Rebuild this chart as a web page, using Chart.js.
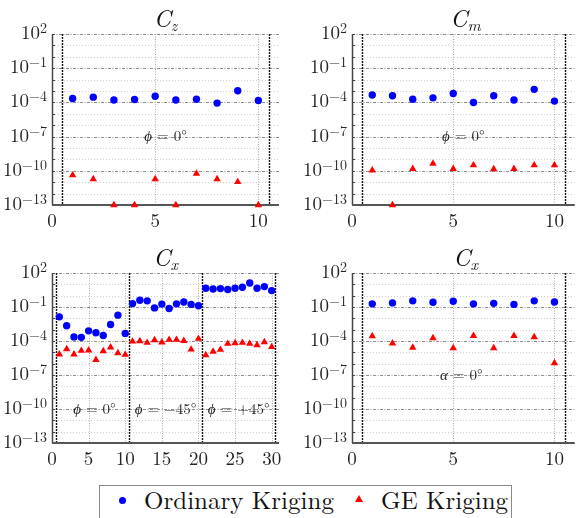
<!DOCTYPE html>
<html>
<head>
<meta charset="utf-8">
<script src="https://cdn.jsdelivr.net/npm/chart.js@4.4.1/dist/chart.umd.min.js"></script>
<style>
  body { margin: 0; background: #fff; width: 577px; height: 518px; overflow: hidden; position: relative;
         font-family: 'Latin Modern Roman', 'Liberation Serif', serif; color: #111; }
  canvas { position: absolute; }
  .ttl { position: absolute; text-align: center; font-size: 24px; font-style: italic; line-height: 26px;
         font-family: 'Latin Modern Roman', 'Liberation Serif', serif; }
  .ttl sub { font-size: 16px; vertical-align: -4px; line-height: 0; }
  .legend { position: absolute; left: 99px; top: 485px; width: 413px; height: 40px; border: 1px solid #8a8a8a;
            box-sizing: border-box; font-size: 25px; line-height: 25px; white-space: nowrap;
            font-family: 'Latin Modern Roman', 'Liberation Serif', serif; }
  .legend span { position: absolute; top: 0px; }
  .dot { position: absolute; width: 7px; height: 7px; border-radius: 50%; background: #0000ff; top: 11px; }
  .tri { position: absolute; width: 0; height: 0; border-left: 4px solid transparent; border-right: 4px solid transparent;
         border-bottom: 7px solid #ff0000; top: 9px; }
</style>
</head>
<body>
<canvas id="cz" width="290" height="232" style="left:0;top:0"></canvas>
<canvas id="cm" width="279" height="232" style="left:300px;top:0"></canvas>
<canvas id="cxphi" width="290" height="231" style="left:0;top:239px"></canvas>
<canvas id="cxalpha" width="279" height="231" style="left:300px;top:239px"></canvas>

<div class="ttl" style="left:52px;width:227px;top:4px"><i>C</i><sub>z</sub></div>
<div class="ttl" style="left:352px;width:227px;top:4px"><i>C</i><sub>m</sub></div>
<div class="ttl" style="left:52px;width:227px;top:243px"><i>C</i><sub>x</sub></div>
<div class="ttl" style="left:352px;width:227px;top:243px"><i>C</i><sub>x</sub></div>

<div class="legend">
  <div class="dot" style="left:19px"></div><span style="left:44px">Ordinary Kriging</span>
  <div class="tri" style="left:255px"></div><span style="left:281px">GE Kriging</span>
</div>

<script>
// run indices
const runs10 = [1, 2, 3, 4, 5, 6, 7, 8, 9, 10];
const runs30 = [1, 2, 3, 4, 5, 6, 7, 8, 9, 10, 11, 12, 13, 14, 15, 16, 17, 18, 19, 20,
                21, 22, 23, 24, 25, 26, 27, 28, 29, 30];

// relative errors, Cz (phi = 0)
const czOrdinary = [2.2e-4, 2.9e-4, 1.6e-4, 1.8e-4, 3.5e-4, 1.6e-4, 1.9e-4, 8.7e-5, 1.05e-3, 1.5e-4];
const czGE = [4.1e-11, 1.9e-11, 1e-13, 1e-13, 1.9e-11, 1e-13, 5.6e-11, 1.9e-11, 1.05e-11, 1e-13];

// Cm (phi = 0)
const cmOrdinary = [4.4e-4, 3.8e-4, 1.9e-4, 2.5e-4, 6.0e-4, 9.8e-5, 3.8e-4, 1.6e-4, 1.4e-3, 1.3e-4];
const cmGE = [1.1e-10, 1e-13, 1.5e-10, 4.3e-10, 1.5e-10, 3.1e-10, 1.4e-10, 1.5e-10, 3.1e-10, 3.1e-10];

// Cx over three roll angles (phi = 0, -45, +45)
const cxPhiOrdinary = [1.35e-2, 2.2e-3, 2.3e-4, 2.1e-4, 7.9e-4, 5.4e-4, 3.1e-4, 2.9e-3, 1.9e-2, 4.7e-4,
                       0.20, 0.40, 0.35, 0.083, 0.18, 0.074, 0.19, 0.28, 0.17, 0.13,
                       4.5, 3.9, 4.2, 3.5, 4.5, 5.5, 13.2, 4.5, 6.3, 2.8];
const cxPhiGE = [6.6e-6, 1.95e-5, 6.6e-6, 1.4e-5, 1.5e-5, 2.2e-6, 1.3e-5, 2.75e-5, 8.7e-6, 6.2e-6,
                 9.1e-5, 9.8e-5, 7.1e-5, 1.2e-4, 7.6e-5, 1.3e-4, 1.3e-4, 1.05e-4, 1.8e-5, 1.6e-4,
                 5.8e-6, 1.15e-5, 1.7e-5, 5.8e-5, 6.6e-5, 7.1e-5, 5.8e-5, 4.4e-5, 8.1e-5, 3.0e-5];

// Cx (alpha = 0)
const cxAlphaOrdinary = [0.19, 0.23, 0.35, 0.26, 0.32, 0.19, 0.21, 0.17, 0.35, 0.28];
const cxAlphaGE = [2.7e-4, 6.2e-5, 2.6e-5, 1.8e-4, 2.4e-5, 2.9e-4, 2.4e-5, 2.9e-4, 2.2e-4, 1.15e-6];

// axis ticks
const xTicksShort = [0, 5, 10];
const xTicksLong = [0, 5, 10, 15, 20, 25, 30];
const yLabelExps = [2, -1, -4, -7, -10, -13];
const yDecades = [2, 1, 0, -1, -2, -3, -4, -5, -6, -7, -8, -9, -10, -11, -12, -13];

const FONT = "'Latin Modern Roman', 'Liberation Serif', serif";
const expText = e => String(e).replace('-', '\u2212');

// grid, group separators, axis lines, power-of-ten labels and the angle notes
const decor = {
  id: 'decor',
  beforeDatasetsDraw(chart, args, opts) {
    const { ctx, chartArea: a, scales: { x, y } } = chart;
    ctx.save();
    ctx.lineWidth = 1;
    yDecades.forEach(e => {
      const py = Math.round(y.getPixelForValue(Math.pow(10, e))) + 0.5;
      const major = yLabelExps.includes(e);
      ctx.strokeStyle = major ? '#8c8c8c' : '#cfcfcf';
      ctx.setLineDash(major ? [3, 1.5, 1, 1.5] : [1, 2]);
      ctx.beginPath(); ctx.moveTo(a.left, py); ctx.lineTo(a.right, py); ctx.stroke();
    });
    opts.xTicks.forEach(v => {
      if (v === 0) return;
      const px = Math.round(x.getPixelForValue(v)) + 0.5;
      ctx.strokeStyle = '#a8a8a8';
      ctx.setLineDash([1, 1.5]);
      ctx.beginPath(); ctx.moveTo(px, a.top); ctx.lineTo(px, a.bottom); ctx.stroke();
    });
    opts.dividers.forEach(v => {
      const px = Math.round(x.getPixelForValue(v)) + 0.5;
      ctx.strokeStyle = '#111';
      ctx.lineWidth = 1.4;
      ctx.setLineDash([2, 1]);
      ctx.beginPath(); ctx.moveTo(px, a.top); ctx.lineTo(px, a.bottom); ctx.stroke();
    });
    // axis lines with inward minor ticks
    ctx.setLineDash([]);
    ctx.strokeStyle = '#444';
    ctx.lineWidth = 1.5;
    ctx.beginPath(); ctx.moveTo(a.left + 0.5, a.top); ctx.lineTo(a.left + 0.5, a.bottom); ctx.stroke();
    ctx.lineWidth = 1;
    yDecades.forEach(e => {
      const py = Math.round(y.getPixelForValue(Math.pow(10, e))) + 0.5;
      ctx.beginPath(); ctx.moveTo(a.left, py); ctx.lineTo(a.left + 3, py); ctx.stroke();
    });
    ctx.strokeStyle = '#555';
    ctx.lineWidth = 2;
    ctx.beginPath(); ctx.moveTo(a.left, a.bottom); ctx.lineTo(a.right, a.bottom); ctx.stroke();

    // y labels as 10 with a raised exponent
    ctx.fillStyle = '#222';
    ctx.textBaseline = 'alphabetic';
    ctx.textAlign = 'right';
    yLabelExps.forEach(e => {
      const py = y.getPixelForValue(Math.pow(10, e));
      const right = a.left - 5;
      ctx.font = '14px ' + FONT;
      const t = expText(e);
      const we = ctx.measureText(t).width;
      ctx.fillText(t, right, py - 1);
      ctx.font = '19px ' + FONT;
      ctx.fillText('10', right - we, py + 5);
    });

    // notes
    ctx.textAlign = 'left';
    ctx.textBaseline = 'middle';
    opts.notes.forEach(n => {
      const px = x.getPixelForValue(n.x), py = y.getPixelForValue(n.y);
      ctx.font = 'italic 15px ' + FONT;
      const w1 = ctx.measureText(n.sym).width;
      ctx.font = '15px ' + FONT;
      const w2 = ctx.measureText(n.text).width;
      const x0 = px - (w1 + w2) / 2;
      ctx.font = 'italic 15px ' + FONT;
      ctx.fillText(n.sym, x0, py);
      ctx.font = '15px ' + FONT;
      ctx.fillText(n.text, x0 + w1, py);
    });
    ctx.restore();
  }
};

function makePanel(id, xs, xMax, xTicks, dividers, ordinary, ge, notes, padRight) {
  const pts = vals => vals.map((v, i) => ({ x: xs[i], y: v }));
  new Chart(document.getElementById(id), {
    type: 'scatter',
    data: {
      datasets: [
        { label: 'Ordinary Kriging', data: pts(ordinary), pointStyle: 'circle', pointRadius: 3.7,
          backgroundColor: '#0000ff', borderWidth: 0, clip: false },
        { label: 'GE Kriging', data: pts(ge), pointStyle: 'triangle', pointRadius: 4.3,
          backgroundColor: '#ff0000', borderWidth: 0, clip: false },
      ],
    },
    options: {
      responsive: false,
      animation: false,
      events: [],
      layout: { padding: { top: 34, right: padRight, left: 0, bottom: 0 } },
      plugins: {
        legend: { display: false },
        tooltip: { enabled: false },
        decor: { xTicks, dividers, notes },
      },
      scales: {
        x: {
          type: 'linear', min: 0, max: xMax,
          afterBuildTicks: s => { s.ticks = xTicks.map(v => ({ value: v })); },
          afterFit: s => { s.height = 27; },
          grid: { display: false, drawTicks: false },
          border: { display: false },
          ticks: { font: { family: FONT, size: 19 }, color: '#222', padding: 5, maxRotation: 0 },
        },
        y: {
          type: 'logarithmic', min: 1e-13, max: 1e2,
          afterBuildTicks: s => { s.ticks = yLabelExps.map(e => ({ value: Math.pow(10, e) })); },
          afterFit: s => { s.width = 52; },
          grid: { display: false, drawTicks: false },
          border: { display: false },
          ticks: { display: false },
        },
      },
    },
    plugins: [decor],
  });
}

makePanel('cz', runs10, 11, xTicksShort, [0.5, 10.5], czOrdinary, czGE,
  [{ x: 5.5, y: 1e-7, sym: '\u03D5', text: ' = 0\u00B0' }], 11);
makePanel('cm', runs10, 11, xTicksShort, [0.5, 10.5], cmOrdinary, cmGE,
  [{ x: 5.5, y: 1e-7, sym: '\u03D5', text: ' = 0\u00B0' }], 0);
makePanel('cxphi', runs30, 31, xTicksLong, [0.5, 10.5, 20.5, 30.5], cxPhiOrdinary, cxPhiGE,
  [{ x: 5.8, y: 1e-10, sym: '\u03D5', text: ' = 0\u00B0' },
   { x: 15.5, y: 1e-10, sym: '\u03D5', text: ' = \u221245\u00B0' },
   { x: 25.5, y: 1e-10, sym: '\u03D5', text: ' = +45\u00B0' }], 11);
makePanel('cxalpha', runs10, 11, xTicksShort, [0.5, 10.5], cxAlphaOrdinary, cxAlphaGE,
  [{ x: 5.4, y: 1e-7, sym: '\u03B1', text: ' = 0\u00B0' }], 0);
</script>
</body>
</html>
